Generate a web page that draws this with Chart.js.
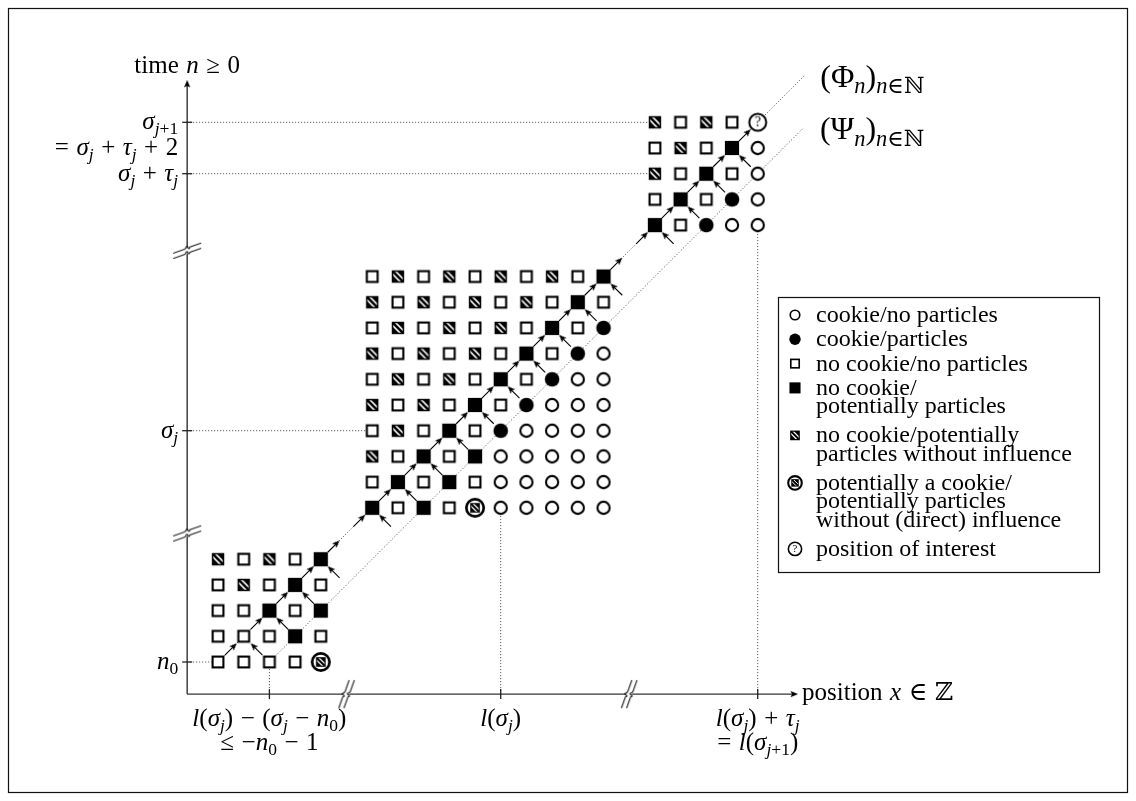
<!DOCTYPE html>
<html>
<head>
<meta charset="utf-8">
<script src="https://cdn.jsdelivr.net/npm/chart.js@4.4.1/dist/chart.umd.min.js"></script>
<style>
html,body{margin:0;padding:0;background:#fff;overflow:hidden;}
canvas{display:block;}
</style>
</head>
<body>
<canvas id="chart" width="1136" height="801"></canvas>
<script>
// ================= DATA =================
// cell states: o cookie/no particles, c cookie/particles, s no cookie/no particles,
// f no cookie/potentially particles, h no cookie/potentially particles without influence,
// p potentially a cookie/..., q position of interest
const lowerCols = [0, 1, 2, 3, 4];
const lowerRows = [0, 1, 2, 3, 4];
const lowerStates = ['ssssp', 'sssfs', 'ssfsf', 'shsfs', 'hshsf'];

const middleCols = [6, 7, 8, 9, 10, 11, 12, 13, 14, 15];
const middleRows = [6, 7, 8, 9, 10, 11, 12, 13, 14, 15];
const middleStates = [
  'fsfspooooo',
  'sfsfsooooo',
  'hsfsfooooo',
  'shsfscoooo',
  'hshsfscooo',
  'shshsfscoo',
  'hshshsfsco',
  'shshshsfsc',
  'hshshshsfs',
  'shshshshsf'
];

const upperCols = [17, 18, 19, 20, 21];
const upperRows = [17, 18, 19, 20, 21];
const upperStates = ['fscoo', 'sfsco', 'hsfso', 'shsfo', 'hshsq'];

// arrows: Phi_k -> Phi_{k+1}, and (k+1,k-1) -> Phi_k
const phiSteps = [0,1,2,3,4,5,6,7,8,9,10,11,12,13,14,15,16,17,18,19,20];
const psiFeeds = [1,2,3,4,6,7,8,9,10,11,12,13,14,15,17,18,19,20];

const phiLineX = [0, 22.85], phiLineY = [0, 22.85];
const psiLineX = [2, 22.8],  psiLineY = [0, 20.8];

const yTickRows = [0, 9, 19, 21];
const yTickLabels = [['n_0'], ['σ_j'], ['σ_j + τ_j'], ['σ_{j+1}', '= σ_j + τ_j + 2']];
const yGuideEnds = [0, 6, 17, 17];
const xTickCols = [2, 11, 21];
const xTickLabels = [['l(σ_j) − (σ_j − n_0)', '≤ −n_0 − 1'], ['l(σ_j)'], ['l(σ_j) + τ_j', '= l(σ_{j+1})']];
const xGuideEnds = [0, 6, 17];
const yBreaks = [5, 16];
const xBreaks = [5, 16];

const yAxisTitle = 'time n ≥ 0';
const xAxisTitle = 'position x ∈ ℤ';
const phiLabel = '(Φ_n)_{n∈ℕ}';
const psiLabel = '(Ψ_n)_{n∈ℕ}';

const legendStates = ['o', 'c', 's', 'f', 'h', 'p', 'q'];
const legendLabels = [
  ['cookie/no particles'],
  ['cookie/particles'],
  ['no cookie/no particles'],
  ['no cookie/', 'potentially particles'],
  ['no cookie/potentially', 'particles without influence'],
  ['potentially a cookie/', 'potentially particles', 'without (direct) influence'],
  ['position of interest']
];

// axis placement (in grid units)
const axisX = -1.2, axisY = -1.25, yAxisTop = 22.65, xAxisRight = 22.57;

// ================= DRAWING HELPERS =================
const FONT = '"Liberation Serif", "DejaVu Serif", "DejaVu Sans", serif';

function hatchSquare(g, cx, cy, s) {
  g.fillStyle = '#000';
  g.fillRect(cx - s / 2, cy - s / 2, s, s);
  g.save();
  g.beginPath();
  const m = s * 0.12;
  g.rect(cx - s / 2 + m, cy - s / 2 + m, s - 2 * m, s - 2 * m);
  g.clip();
  g.strokeStyle = '#fff';
  g.lineWidth = s * 0.13;
  [-0.12, 0.12].forEach(f => {
    const o = f * s;
    g.beginPath();
    g.moveTo(cx - s + o, cy - s - o);
    g.lineTo(cx + s + o, cy + s - o);
    g.stroke();
  });
  g.restore();
}

function drawSym(g, type, cx, cy, k) {
  g.save();
  g.strokeStyle = '#000';
  g.fillStyle = '#000';
  switch (type) {
    case 'o':
      g.beginPath(); g.arc(cx, cy, 6.1 * k, 0, 2 * Math.PI);
      g.fillStyle = '#fff'; g.fill(); g.lineWidth = 2.1 * k; g.stroke(); break;
    case 'c':
      g.beginPath(); g.arc(cx, cy, 7.3 * k, 0, 2 * Math.PI); g.fill(); break;
    case 's':
      g.fillStyle = '#fff';
      g.fillRect(cx - 5.4 * k, cy - 5.4 * k, 10.8 * k, 10.8 * k);
      g.lineWidth = 2.1 * k;
      g.strokeRect(cx - 5.4 * k, cy - 5.4 * k, 10.8 * k, 10.8 * k); break;
    case 'f':
      g.fillRect(cx - 7.1 * k, cy - 7.1 * k, 14.2 * k, 14.2 * k); break;
    case 'h':
      hatchSquare(g, cx, cy, 12.4 * k); break;
    case 'p':
      g.beginPath(); g.arc(cx, cy, 8.7 * k, 0, 2 * Math.PI);
      g.fillStyle = '#fff'; g.fill(); g.lineWidth = 2.7 * k; g.stroke();
      hatchSquare(g, cx, cy, 9.6 * k); break;
    case 'q':
      g.beginPath(); g.arc(cx, cy, 8.5 * k, 0, 2 * Math.PI);
      g.fillStyle = '#fff'; g.fill(); g.lineWidth = 2 * k; g.stroke();
      g.fillStyle = '#000';
      g.font = (14 * k) + 'px ' + FONT;
      g.textAlign = 'center'; g.textBaseline = 'middle';
      g.fillText('?', cx, cy + 0.8 * k); break;
  }
  g.restore();
}

function makeImg(size, fn) {
  const c = document.createElement('canvas');
  c.width = size; c.height = size;
  fn(c.getContext('2d'), size / 2);
  return c;
}

const symImg = {};
['o', 'c', 's', 'f', 'h', 'p', 'q'].forEach(t => {
  symImg[t] = makeImg(26, (g, h) => drawSym(g, t, h, h, 1));
});

const headImg = makeImg(22, (g, h) => {
  g.fillStyle = '#000';
  g.beginPath();
  g.moveTo(h, h);
  g.lineTo(h + 3.1, h + 7.6);
  g.lineTo(h, h + 5.9);
  g.lineTo(h - 3.1, h + 7.6);
  g.closePath();
  g.fill();
});

function breakPath(g, h, off, tr) {
  const P = (x, y) => tr ? [y, x] : [x, y];
  g.beginPath();
  let p = P(-14, 5.2 + off); g.moveTo(h + p[0], h + p[1]);
  p = P(-2.8, 1.2 + off); g.lineTo(h + p[0], h + p[1]);
  let c1 = P(-0.5, 0.4 + off), c2 = P(-1.5, -2.6 + off), e = P(0.2, -1.6 + off);
  g.bezierCurveTo(h + c1[0], h + c1[1], h + c2[0], h + c2[1], h + e[0], h + e[1]);
  c1 = P(1.5, -0.6 + off); c2 = P(1.5, 2.4 + off); e = P(2.8, -1.2 + off);
  g.bezierCurveTo(h + c1[0], h + c1[1], h + c2[0], h + c2[1], h + e[0], h + e[1]);
  p = P(14, -5.2 + off); g.lineTo(h + p[0], h + p[1]);
}
function makeBreak(tr) {
  return makeImg(36, (g, h) => {
    g.fillStyle = '#fff';
    const P = (x, y) => tr ? [y, x] : [x, y];
    g.beginPath();
    const q = [P(-10, 3.8 - 2.6), P(10, -3.8 - 2.6), P(10, -3.8 + 2.6), P(-10, 3.8 + 2.6)];
    g.moveTo(h + q[0][0], h + q[0][1]);
    for (let i = 1; i < 4; i++) g.lineTo(h + q[i][0], h + q[i][1]);
    g.closePath(); g.fill();
    g.strokeStyle = '#222'; g.lineWidth = 1.1;
    breakPath(g, h, -2.6, tr); g.stroke();
    breakPath(g, h, 2.6, tr); g.stroke();
  });
}
const yBreakImg = makeBreak(false);
const xBreakImg = makeBreak(true);

// ================= DATASETS =================
const datasets = [];
const blocks = [
  { cols: lowerCols, rows: lowerRows, states: lowerStates },
  { cols: middleCols, rows: middleRows, states: middleStates },
  { cols: upperCols, rows: upperRows, states: upperStates }
];
const byType = { o: [], c: [], s: [], f: [], h: [], p: [], q: [] };
blocks.forEach(b => b.rows.forEach((r, ri) => b.cols.forEach((c, ci) => {
  byType[b.states[ri][ci]].push({ x: c, y: r });
})));
Object.keys(byType).forEach(t => {
  datasets.push({
    type: 'scatter', data: byType[t], order: 0,
    pointStyle: symImg[t], pointRadius: 6, pointHoverRadius: 6
  });
});

// axis breaks
datasets.push({ type: 'scatter', order: 0, pointStyle: yBreakImg, pointRadius: 6,
  data: yBreaks.map(r => ({ x: axisX, y: r })) });
datasets.push({ type: 'scatter', order: 0, pointStyle: xBreakImg, pointRadius: 6,
  data: xBreaks.map(c => ({ x: c, y: axisY })) });

// arrows
const A0 = 0.27, A1 = 0.73, AL = 0.12;
const heads = [], headRot = [];
function arrow(x0, y0, dx, dy, rot) {
  datasets.push({
    type: 'scatter', showLine: true, order: 2, borderColor: '#000', borderWidth: 1.1,
    pointRadius: 0, data: [{ x: x0 + dx * A0, y: y0 + dy * A0 }, { x: x0 + dx * (A1 - AL), y: y0 + dy * (A1 - AL) }]
  });
  heads.push({ x: x0 + dx * A1, y: y0 + dy * A1 });
  headRot.push(rot);
}
phiSteps.forEach(k => arrow(k, k, 1, 1, 45));
psiFeeds.forEach(k => arrow(k + 1, k - 1, -1, 1, -45));

// axes
datasets.push({ type: 'scatter', showLine: true, order: 3, borderColor: '#333', borderWidth: 1.4, pointRadius: 0,
  data: [{ x: axisX, y: axisY }, { x: axisX, y: yAxisTop - 0.15 }] });
datasets.push({ type: 'scatter', showLine: true, order: 3, borderColor: '#333', borderWidth: 1.4, pointRadius: 0,
  data: [{ x: axisX, y: axisY }, { x: xAxisRight - 0.15, y: axisY }] });
heads.push({ x: axisX, y: yAxisTop }); headRot.push(0);
heads.push({ x: xAxisRight, y: axisY }); headRot.push(90);

datasets.push({ type: 'scatter', order: 1, data: heads, pointStyle: headImg, pointRadius: 5, pointRotation: headRot });

// ticks
datasets.push({ type: 'scatter', order: 1, pointStyle: 'line', pointRadius: 5, pointBorderWidth: 1.3,
  pointBorderColor: '#222', pointRotation: 0, data: yTickRows.map(r => ({ x: axisX, y: r })) });
datasets.push({ type: 'scatter', order: 1, pointStyle: 'line', pointRadius: 5, pointBorderWidth: 1.3,
  pointBorderColor: '#222', pointRotation: 90, data: xTickCols.map(c => ({ x: c, y: axisY })) });

// dotted guides
function dotted(xs, ys) {
  datasets.push({ type: 'scatter', showLine: true, order: 4, borderColor: '#444', borderWidth: 1,
    borderDash: [1, 2], pointRadius: 0, data: xs.map((x, i) => ({ x, y: ys[i] })) });
}
dotted(phiLineX, phiLineY);
dotted(psiLineX, psiLineY);
yTickRows.forEach((r, i) => dotted([axisX, yGuideEnds[i]], [r, r]));
xTickCols.forEach((c, i) => dotted([c, c], [axisY, xGuideEnds[i]]));

// ================= TEXT =================
function mathTokens(str, sub) {
  const out = [];
  let i = 0;
  while (i < str.length) {
    const ch = str[i];
    if (ch === '_') {
      i++;
      let s;
      if (str[i] === '{') { const j = str.indexOf('}', i); s = str.slice(i + 1, j); i = j + 1; }
      else { s = str[i]; i++; }
      mathTokens(s, true).forEach(t => out.push(t));
      continue;
    }
    if (/[A-Za-z]/.test(ch)) {
      let j = i;
      while (j < str.length && /[A-Za-z]/.test(str[j])) j++;
      const w = str.slice(i, j);
      out.push({ t: w, it: w.length === 1, sub: !!sub });
      i = j; continue;
    }
    out.push({ t: ch, it: /[στ]/.test(ch), sub: !!sub });
    i++;
  }
  return out;
}
function drawMath(ctx, str, x, y, align, size) {
  const toks = mathTokens(str, false).map(t => {
    const sz = t.sub ? size * 0.7 : size;
    const font = (t.it ? 'italic ' : '') + sz + 'px ' + FONT;
    let w;
    if (t.t === ' ') w = size * 0.3;
    else { ctx.font = font; w = ctx.measureText(t.t).width; }
    return Object.assign(t, { font, w, sz });
  });
  const total = toks.reduce((a, t) => a + t.w, 0);
  let cx = align === 'right' ? x - total : align === 'center' ? x - total / 2 : x;
  ctx.save();
  ctx.fillStyle = '#000';
  ctx.textBaseline = 'alphabetic';
  ctx.textAlign = 'left';
  toks.forEach(t => {
    if (t.t !== ' ') {
      ctx.font = t.font;
      ctx.fillText(t.t, cx, y + (t.sub ? size * 0.2 : 0));
    }
    cx += t.w;
  });
  ctx.restore();
}

const FS = 25, LFS = 24;
const decorPlugin = {
  id: 'decor',
  afterDraw(chart) {
    const { ctx } = chart;
    const xs = chart.scales.x, ys = chart.scales.y;
    const ax = xs.getPixelForValue(axisX), ay = ys.getPixelForValue(axisY);
    // frame
    ctx.save();
    ctx.strokeStyle = '#111'; ctx.lineWidth = 1.2;
    ctx.strokeRect(8.5, 8.5, 1119, 784);
    ctx.restore();
    // tick labels
    yTickRows.forEach((r, i) => {
      const py = ys.getPixelForValue(r);
      yTickLabels[i].forEach((line, j) => drawMath(ctx, line, ax - 9, py + 7 + j * 26, 'right', FS));
    });
    xTickCols.forEach((c, i) => {
      const px = xs.getPixelForValue(c);
      xTickLabels[i].forEach((line, j) => drawMath(ctx, line, px, ay + 32 + j * 24, 'center', FS));
    });
    drawMath(ctx, yAxisTitle, ax, ys.getPixelForValue(yAxisTop) - 7, 'center', FS);
    drawMath(ctx, xAxisTitle, xs.getPixelForValue(xAxisRight) + 4, ay + 6, 'left', FS);
    drawMath(ctx, phiLabel, xs.getPixelForValue(phiLineX[1]) + 15, ys.getPixelForValue(phiLineY[1]) + 12, 'left', 32);
    drawMath(ctx, psiLabel, xs.getPixelForValue(psiLineX[1]) + 16, ys.getPixelForValue(psiLineY[1]) + 12, 'left', 32);

    // legend
    ctx.save();
    ctx.strokeStyle = '#111'; ctx.lineWidth = 1.2;
    ctx.fillStyle = '#fff';
    ctx.fillRect(778.5, 297.5, 321, 275);
    ctx.strokeRect(778.5, 297.5, 321, 275);
    let ly = 316;
    legendStates.forEach((t, i) => {
      drawSym(ctx, t, 795, ly - 1, 0.78);
      ctx.fillStyle = '#000';
      ctx.font = LFS + 'px ' + FONT;
      ctx.textAlign = 'left'; ctx.textBaseline = 'alphabetic';
      const n = legendLabels[i].length;
      legendLabels[i].forEach((line, j) => ctx.fillText(line, 816, ly + 6 + j * 18.5));
      ly += (n - 1) * 18.5 + (n > 1 ? 29 : 24.3);
    });
    ctx.restore();
  }
};

new Chart(document.getElementById('chart'), {
  type: 'scatter',
  data: { datasets },
  options: {
    responsive: false,
    devicePixelRatio: 1,
    animation: false,
    events: [],
    layout: { padding: 0, autoPadding: false },
    scales: {
      x: { type: 'linear', display: false, min: -8.4825, max: 35.7198 },
      y: { type: 'linear', display: false, min: -5.4086, max: 25.7588 }
    },
    plugins: { legend: { display: false }, tooltip: { enabled: false } }
  },
  plugins: [decorPlugin]
});
</script>
</body>
</html>
